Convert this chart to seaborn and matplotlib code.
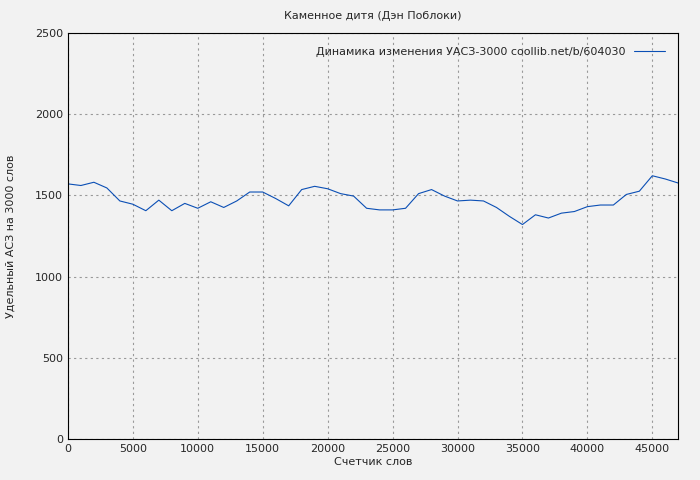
import matplotlib
matplotlib.use("Agg")
import matplotlib.pyplot as plt
import seaborn as sns
import pandas as pd

words = list(range(0, 48000, 1000))
values = [1570,1560,1580,1545,1465,1445,1405,1470,1405,1450,1420,1460,1425,1465,1520,1520,
          1480,1435,1535,1555,1540,1510,1495,1420,1410,1410,1420,1510,1535,1495,1465,1470,
          1465,1425,1370,1320,1380,1360,1390,1400,1430,1440,1440,1505,1525,1620,1600,1575]
label = "Динамика изменения УАСЗ-3000 coollib.net/b/604030"

sns.set_style("white")
plt.rcParams['font.family'] = ['DejaVu Sans']
fig = plt.figure(figsize=(7, 4.8), dpi=100, facecolor="#f2f2f2")
ax = fig.add_axes([0.097, 0.085, 0.872, 0.847])
ax.set_facecolor("#f2f2f2")
df = pd.DataFrame({"x": words, "y": values})
sns.lineplot(data=df, x="x", y="y", ax=ax, color="#0b4fb5", linewidth=0.8, label=label)
ax.set_xlim(0, 47000)
ax.set_ylim(0, 2500)
ax.set_xticks(range(0, 47000, 5000))
ax.set_yticks(range(0, 2501, 500))
ax.grid(True, color="#999999", linestyle=(0, (2, 3)), linewidth=0.8)
for s in ax.spines.values():
    s.set_color("black")
ax.tick_params(labelsize=8, length=3, direction="in")
ax.set_xlabel("Счетчик слов", fontsize=8, labelpad=2)
ax.set_ylabel("Удельный АСЗ на 3000 слов", fontsize=8, labelpad=14)
ax.set_title("Каменное дитя (Дэн Поблоки)", fontsize=8, pad=10)
leg = ax.legend(loc="upper right", fontsize=8, frameon=False, markerfirst=False,
                handlelength=2.8, bbox_to_anchor=(0.995, 0.99))
fig.savefig("out.png", dpi=100, facecolor=fig.get_facecolor())
